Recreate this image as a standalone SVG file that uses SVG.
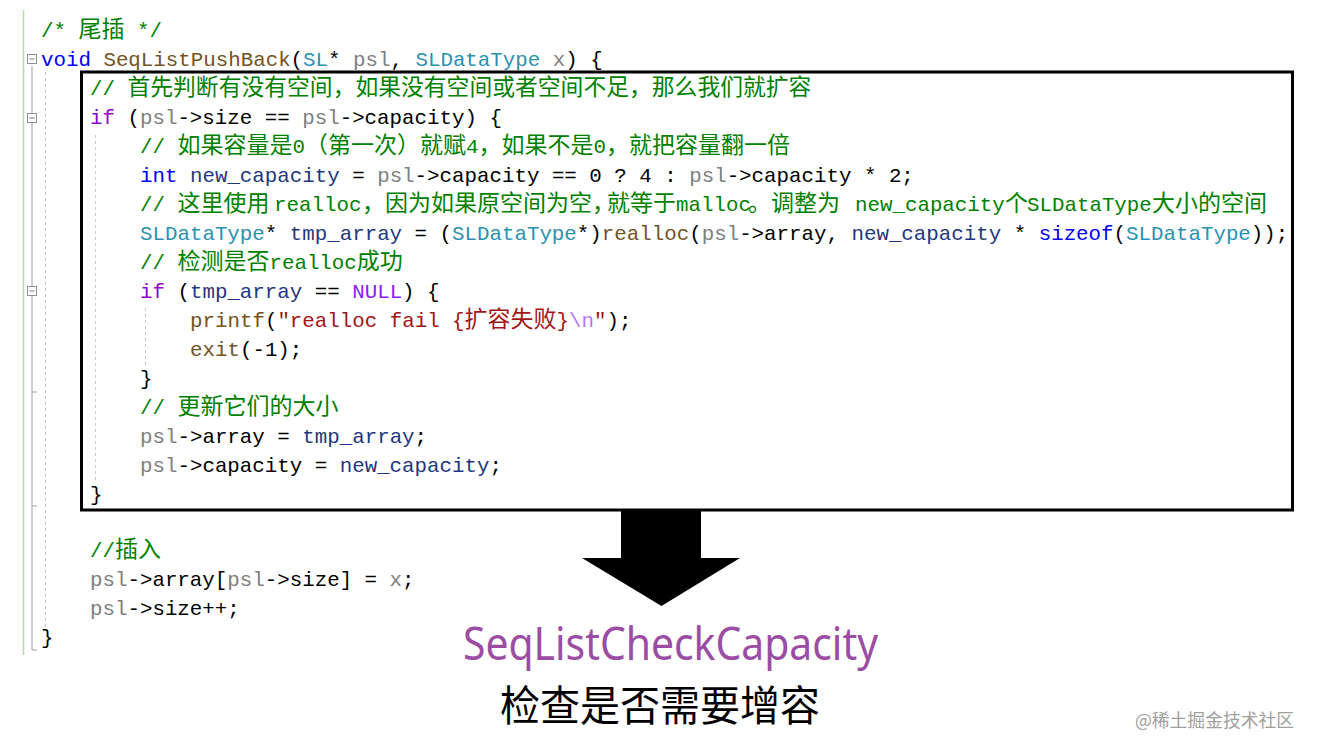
<svg xmlns="http://www.w3.org/2000/svg" width="1317" height="752" viewBox="0 0 1317 752" xml:space="preserve">
<style>
.code{font-family:"Liberation Mono","Noto Sans CJK SC",monospace;font-size:20.8px;fill:#000;white-space:pre}
.c{font-family:"Noto Sans CJK SC",sans-serif;font-size:23px}
.cm{fill:#008000}
.kw{fill:#0000ff}
.ct{fill:#8f08c4}
.fn{fill:#74531f}
.ty{fill:#2b91af}
.pm{fill:#808080}
.lv{fill:#1f377f}
.mac{fill:#8a1bff}
.str{fill:#a31515}
.esc{fill:#b776fb}
.guide{stroke:#c8c8c8;stroke-width:1;stroke-dasharray:3,3;fill:none}
.fold{stroke:#a0a0a0;stroke-width:1;fill:none}
.fbox{stroke:#909090;stroke-width:1;fill:#fff}
</style>
<rect width="1317" height="752" fill="#fff"/>
<g id="gutter">
<line x1="23.5" y1="10" x2="23.5" y2="655" stroke="#b2dcaa" stroke-width="1.5"/>
<path class="fold" d="M32,66 V650 H37 M32,506 H37 M32,392 H37"/>
<rect class="fbox" x="27.5" y="54.5" width="9" height="9"/>
<line x1="29.5" y1="59" x2="34.5" y2="59" stroke="#707070"/>
<rect class="fbox" x="27.5" y="113.5" width="9" height="9"/>
<line x1="29.5" y1="118" x2="34.5" y2="118" stroke="#707070"/>
<rect class="fbox" x="27.5" y="286.5" width="9" height="9"/>
<line x1="29.5" y1="291" x2="34.5" y2="291" stroke="#707070"/>
<line class="guide" x1="45.5" y1="72" x2="45.5" y2="627"/>
<line class="guide" x1="95.5" y1="135" x2="95.5" y2="480"/>
<line class="guide" x1="145.5" y1="308" x2="145.5" y2="365"/>
</g>
<g id="code">
<text class="code" x="41" y="37"><tspan class="cm">/* <tspan class="c">尾插</tspan> */</tspan></text>
<text class="code" x="41" y="66"><tspan class="kw">void</tspan> <tspan class="fn">SeqListPushBack</tspan>(<tspan class="ty">SL</tspan>* <tspan class="pm">psl</tspan>, <tspan class="ty">SLDataType</tspan> <tspan class="pm">x</tspan>) {</text>
<text class="code" x="90" y="95"><tspan class="cm">// <tspan class="c" style="font-size:22.8px">首先判断有没有空间，如果没有空间或者空间不足，那么我们就扩容</tspan></tspan></text>
<text class="code" x="90" y="124"><tspan class="ct">if</tspan> (<tspan class="pm">psl</tspan>-&gt;size == <tspan class="pm">psl</tspan>-&gt;capacity) {</text>
<text class="code" x="140" y="153"><tspan class="cm">// <tspan class="c">如果容量是</tspan>0<tspan class="c">（第一次）就赋</tspan>4<tspan class="c">，如果不是</tspan>0<tspan class="c">，就把容量翻一倍</tspan></tspan></text>
<text class="code" x="140" y="182"><tspan class="kw">int</tspan> <tspan class="lv">new_capacity</tspan> = <tspan class="pm">psl</tspan>-&gt;capacity == 0 ? 4 : <tspan class="pm">psl</tspan>-&gt;capacity * 2;</text>
<text class="code" x="140" y="211"><tspan class="cm">// <tspan class="c">这里使用</tspan><tspan x="274">realloc</tspan><tspan class="c" x="362">，因为如果原空间为空，</tspan><tspan class="c" x="607">就等于</tspan><tspan x="676">malloc</tspan><tspan class="c" x="748">。调整为</tspan><tspan x="855">new_capacity</tspan><tspan class="c" x="1005">个</tspan><tspan x="1027">SLDataType</tspan><tspan class="c" x="1152">大小的空间</tspan></tspan></text>
<text class="code" x="140" y="240"><tspan class="ty">SLDataType</tspan>* <tspan class="lv">tmp_array</tspan> = (<tspan class="ty">SLDataType</tspan>*)<tspan class="fn">realloc</tspan>(<tspan class="pm">psl</tspan>-&gt;array, <tspan class="lv">new_capacity</tspan> * <tspan class="kw">sizeof</tspan>(<tspan class="ty">SLDataType</tspan>));</text>
<text class="code" x="140" y="269"><tspan class="cm">// <tspan class="c">检测是否</tspan>realloc<tspan class="c">成功</tspan></tspan></text>
<text class="code" x="140" y="298"><tspan class="ct">if</tspan> (<tspan class="lv">tmp_array</tspan> == <tspan class="mac">NULL</tspan>) {</text>
<text class="code" x="190" y="327"><tspan class="fn">printf</tspan>(<tspan class="str">"realloc fail {<tspan class="c">扩容失败</tspan>}</tspan><tspan class="esc">\n</tspan><tspan class="str">"</tspan>);</text>
<text class="code" x="190" y="356"><tspan class="fn">exit</tspan>(-1);</text>
<text class="code" x="140" y="385">}</text>
<text class="code" x="140" y="414"><tspan class="cm">// <tspan class="c">更新它们的大小</tspan></tspan></text>
<text class="code" x="140" y="443"><tspan class="pm">psl</tspan>-&gt;array = <tspan class="lv">tmp_array</tspan>;</text>
<text class="code" x="140" y="472"><tspan class="pm">psl</tspan>-&gt;capacity = <tspan class="lv">new_capacity</tspan>;</text>
<text class="code" x="90" y="501">}</text>
<text class="code" x="90" y="557"><tspan class="cm">//<tspan class="c">插入</tspan></tspan></text>
<text class="code" x="90" y="586"><tspan class="pm">psl</tspan>-&gt;array[<tspan class="pm">psl</tspan>-&gt;size] = <tspan class="pm">x</tspan>;</text>
<text class="code" x="90" y="615"><tspan class="pm">psl</tspan>-&gt;size++;</text>
<text class="code" x="41" y="644">}</text>
</g>
<g id="highlight-box">
<rect x="81.5" y="72" width="1211" height="438" fill="none" stroke="#000" stroke-width="3"/>
</g>
<g id="connectors">
<polygon points="621,511 701,511 701,558 740,558 661.5,606 582,558 621,558" fill="#000"/>
</g>
<g id="label-name">
<text x="463" y="660" font-family="'Noto Sans','Liberation Sans',sans-serif" font-size="46" fill="#9b4da3" textLength="415" lengthAdjust="spacingAndGlyphs">SeqListCheckCapacity</text>
</g>
<g id="label-desc">
<text x="500" y="721" font-family="'Noto Sans CJK SC',sans-serif" font-size="42" fill="#000" textLength="320" lengthAdjust="spacingAndGlyphs">检查是否需要增容</text>
</g>
<g id="watermark">
<text x="1135" y="727" font-family="'Noto Sans CJK SC',sans-serif" font-size="18" fill="#a0a0a0" textLength="159" lengthAdjust="spacingAndGlyphs">@稀土掘金技术社区</text>
</g>
</svg>
